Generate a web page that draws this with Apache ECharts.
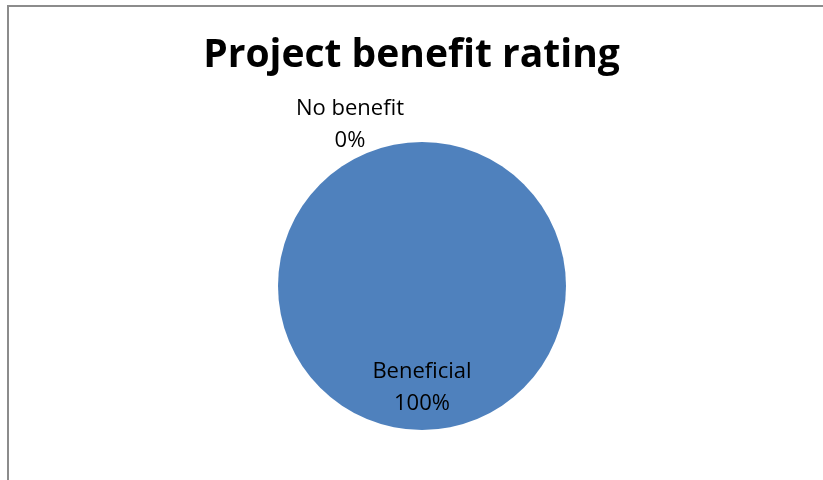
<!DOCTYPE html>
<html>
<head>
<meta charset="utf-8">
<script src="https://cdn.jsdelivr.net/npm/echarts@6/dist/echarts.min.js"></script>
<style>
  html, body { margin: 0; padding: 0; background: #fff; }
  #chart { position: absolute; left: 0; top: 0; width: 823px; height: 480px; }
  #frame {
    position: absolute; left: 7px; top: 5px; width: 816px; height: 475px;
    border-left: 2px solid #8c8c8c; border-top: 2px solid #8c8c8c;
    box-sizing: border-box; pointer-events: none;
  }
</style>
</head>
<body>
<div id="chart"></div>
<div id="frame"></div>
<script>
const categories = ['No benefit', 'Beneficial'];
const values = [0, 1];
const sliceColors = ['#c0504d', '#4f81bd'];

const chart = echarts.init(document.getElementById('chart'), null, { renderer: 'canvas' });

const labelBase = {
  show: true,
  formatter: '{b}\n{d}%',
  color: '#000',
  fontFamily: 'Open Sans, Liberation Sans, Arial, sans-serif',
  fontSize: 22,
  lineHeight: 32
};

chart.setOption({
  animation: false,
  title: {
    text: 'Project benefit rating',
    left: 'center',
    top: 31,
    textStyle: {
      fontFamily: 'Open Sans, Liberation Sans, Arial, sans-serif',
      fontWeight: 'bold',
      fontSize: 39,
      color: '#000'
    }
  },
  series: [{
    type: 'pie',
    center: [422, 286],
    radius: 144,
    startAngle: 90,
    clockwise: true,
    minShowLabelAngle: 0,
    avoidLabelOverlap: false,
    labelLine: { show: false },
    itemStyle: { borderWidth: 0 },
    emphasis: { disabled: true },
    data: categories.map((name, i) => ({
      name,
      value: values[i],
      itemStyle: { color: sliceColors[i] },
      label: i === 0
        ? Object.assign({}, labelBase, { position: 'inside', offset: [-72, -86] })
        : Object.assign({}, labelBase, { position: 'inside', offset: [0, 27] })
    }))
  }]
});
</script>
</body>
</html>
